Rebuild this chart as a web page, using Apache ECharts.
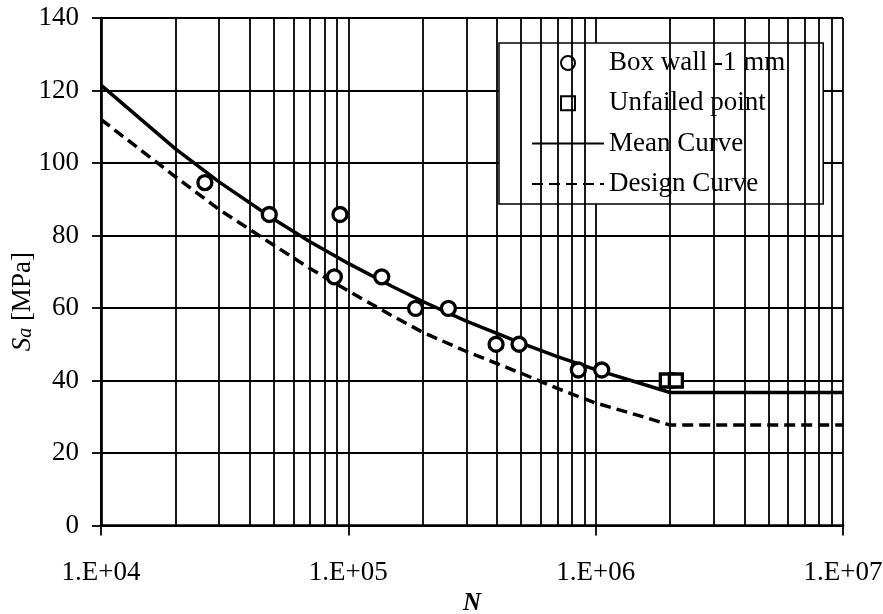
<!DOCTYPE html>
<html><head><meta charset="utf-8">
<script src="https://cdn.jsdelivr.net/npm/echarts@6/dist/echarts.min.js"></script>
<style>html,body{margin:0;padding:0;background:#fff}#c{width:883px;height:614px}</style>
</head><body><div id="c"></div>
<script>
// Data
const boxN = [26300, 47900, 92500, 87800, 136500, 187000, 253800, 395700, 490000, 851000, 1058000];
const boxSa = [94.6, 85.8, 85.8, 68.6, 68.6, 59.9, 59.9, 50.0, 50.0, 42.9, 42.9];
const unfailedN = [1940000, 2110000];
const unfailedSa = [40, 40];
const curveN = [1e4, 2e4, 3e4, 5e4, 7e4, 1e5, 1.5e5, 2e5, 3e5, 5e5, 7e5, 1e6, 1.5e6, 2e6, 1e7];
const meanSa = [121.5, 103.9, 94.8, 84.5, 78.3, 72.3, 66.0, 61.8, 56.4, 50.3, 46.6, 43.0, 39.3, 36.7, 36.7];
const designSa = [112.0, 96.2, 87.2, 77.3, 70.9, 64.7, 57.9, 53.3, 48.0, 42.0, 37.8, 33.8, 30.3, 27.7, 27.7];
const minorGridN = [2e4, 3e4, 4e4, 5e4, 6e4, 7e4, 8e4, 9e4,
                    2e5, 3e5, 4e5, 5e5, 6e5, 7e5, 8e5, 9e5,
                    2e6, 3e6, 4e6, 5e6, 6e6, 7e6, 8e6, 9e6];
const legendNames = ['Box wall -1 mm', 'Unfailed point', 'Mean Curve', 'Design Curve'];

const FONT = 'Liberation Serif';
const FS = 27;
const zip = (a, b) => a.map((v, i) => [v, b[i]]);
const SQUARE = 'path://M0 0H10V10H0Z';
const noSymbol = {color: 'rgba(0,0,0,0)', borderWidth: 0, opacity: 0};

const chart = echarts.init(document.getElementById('c'), null, {renderer: 'canvas'});
chart.setOption({
  animation: false,
  backgroundColor: '#fff',
  grid: {left: 101, right: 40, top: 18, bottom: 88.5, containLabel: false, outerBoundsMode: 'none'},
  legend: {
    data: [
      {name: legendNames[0]},
      {name: legendNames[1]},
      {name: legendNames[2], itemStyle: noSymbol},
      {name: legendNames[3], itemStyle: noSymbol}
    ],
    orient: 'vertical',
    left: 499, top: 43,
    padding: [6.5, 38, 6.5, 32],
    itemGap: 13.3,
    itemWidth: 72, itemHeight: 14,
    backgroundColor: '#fff',
    borderColor: '#000', borderWidth: 1.5,
    textStyle: {fontFamily: FONT, fontSize: FS, color: '#000'},
    selectedMode: false
  },
  xAxis: {
    type: 'log', logBase: 10, min: 1e4, max: 1e7,
    name: 'N', nameLocation: 'middle', nameGap: 66, nameMoveOverlap: false,
    nameTextStyle: {fontFamily: FONT, fontSize: 25, fontStyle: 'italic', fontWeight: 'bold', color: '#000'},
    axisLine: {lineStyle: {color: '#000', width: 2.7}},
    axisTick: {show: true, length: 10, lineStyle: {color: '#000', width: 1.8}},
    minorTick: {show: false},
    axisLabel: {fontFamily: FONT, fontSize: FS, color: '#000', margin: 34,
      formatter: v => '1.E+' + String(Math.round(Math.log10(v))).padStart(2, '0')},
    splitLine: {show: true, lineStyle: {color: '#000', width: 1.8}}
  },
  yAxis: {
    type: 'value', min: 0, max: 140, interval: 20,
    name: '{s|S}{a|a} [MPa]', nameLocation: 'middle', nameGap: 65, nameRotate: 90, nameMoveOverlap: false,
    nameTextStyle: {fontFamily: FONT, fontSize: FS, color: '#000', padding: [0, 60, 0, 0],
      rich: {
        s: {fontFamily: FONT, fontSize: FS, fontStyle: 'italic', color: '#000'},
        a: {fontFamily: FONT, fontSize: 20, fontStyle: 'italic', color: '#000', verticalAlign: 'bottom'}
      }},
    axisLine: {show: true, lineStyle: {color: '#000', width: 2.7}},
    axisTick: {show: true, length: 9, lineStyle: {color: '#000', width: 1.8}},
    axisLabel: {fontFamily: FONT, fontSize: FS, color: '#000', margin: 22},
    splitLine: {show: true, lineStyle: {color: '#000', width: 1.8}}
  },
  series: [
    {
      name: 'grid', type: 'line', data: [], silent: true, z: 1,
      markLine: {
        silent: true, symbol: ['none', 'none'], label: {show: false},
        lineStyle: {color: '#000', width: 1.8, type: 'solid'},
        emphasis: {disabled: true},
        data: minorGridN.map(v => ({xAxis: v}))
      }
    },
    {
      name: legendNames[0], type: 'scatter', data: zip(boxN, boxSa), z: 5,
      symbol: 'circle', symbolSize: 14,
      itemStyle: {color: '#fff', borderColor: '#000', borderWidth: 3.3, opacity: 1}
    },
    {
      name: legendNames[1], type: 'scatter', data: zip(unfailedN, unfailedSa), z: 5,
      symbol: SQUARE, symbolSize: 13, symbolKeepAspect: true,
      itemStyle: {color: '#fff', borderColor: '#000', borderWidth: 3.3, opacity: 1}
    },
    {
      name: legendNames[2], type: 'line', data: zip(curveN, meanSa), z: 3,
      symbol: 'none', lineStyle: {color: '#000', width: 3.5, type: 'solid'},
      itemStyle: {color: '#000'}
    },
    {
      name: legendNames[3], type: 'line', data: zip(curveN, designSa), z: 3,
      symbol: 'none', lineStyle: {color: '#000', width: 3.5, type: [11, 6]},
      itemStyle: {color: '#000'}
    }
  ]
});
</script></body></html>
